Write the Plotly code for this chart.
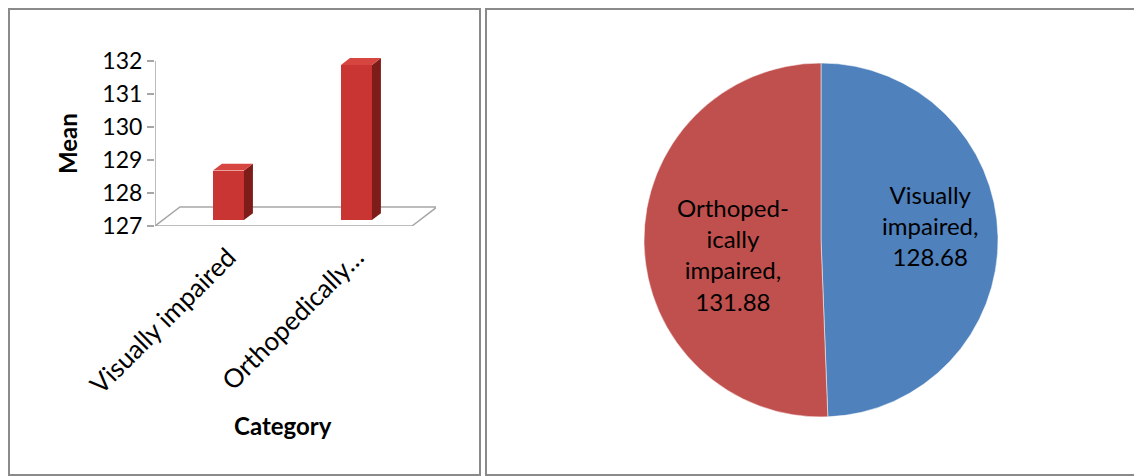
import plotly.graph_objects as go

# ---- data ----
categories = ["Visually impaired", "Orthopedically impaired"]
tick_labels = ["Visually impaired", "Orthopedically…"]
pie_labels = ["Visually<br>impaired", "Orthoped-<br>ically<br>impaired"]
means = [128.68, 131.88]
y_ticks = [127, 128, 129, 130, 131, 132]

# page has an 8px body margin: figure occupies x>=8, y>=8 of the 1142x476 window
OFF = 8
W, H = 1142 - OFF, 476 - OFF
def px(x): return (x - OFF) / W
def py(y): return 1 - (y - OFF) / H

FONT = "Lato"
fig = go.Figure()

# ---- 3D-look bar chart (left) ----
pos = [i + 0.074 for i in range(len(categories))]
bw = 0.242          # bar width (category units)
dz = 0.18           # bar base lift (depth)
ddx, ddy = 0.07, 0.21  # depth offset of bar side/top faces
floor_dx, floor_dy = 0.195, 0.576

fig.add_trace(go.Bar(
    x=pos, y=[v - 127 - dz for v in means], base=[127 + dz] * len(means),
    width=bw, marker=dict(color="#C93532", line=dict(width=0)),
    xaxis="x", yaxis="y", hoverinfo="skip", showlegend=False))

for xc, v in zip(pos, means):
    xl, xr = xc - bw / 2, xc + bw / 2
    b = 127 + dz
    # side face
    fig.add_trace(go.Scatter(
        x=[xr, xr + ddx, xr + ddx, xr, xr], y=[b, b + ddy, v + ddy, v, b],
        fill="toself", fillcolor="#7E1C1A", line=dict(width=0), mode="lines",
        xaxis="x", yaxis="y", hoverinfo="skip", showlegend=False))
    # top face
    fig.add_trace(go.Scatter(
        x=[xl, xr, xr + ddx, xl + ddx, xl], y=[v, v, v + ddy, v + ddy, v],
        fill="toself", fillcolor="#D6453F", line=dict(width=0), mode="lines",
        xaxis="x", yaxis="y", hoverinfo="skip", showlegend=False))

# ---- pie chart (right) ----
pie_text = [f"{l},<br>{v:.2f}" for l, v in zip(pie_labels, means)]
fig.add_trace(go.Pie(
    labels=categories, values=means, textinfo="none",
    sort=False, direction="clockwise", rotation=0,
    marker=dict(colors=["#4F81BD", "#C0504D"], line=dict(color="#ffffff", width=0.5)),
    domain=dict(x=[px(644), px(998)], y=[py(417), py(63)]),
    hoverinfo="skip", showlegend=False))

# label anchor points inside each slice (pixel coords of the reference layout)
pie_label_xy = [(930, 225), (733, 254)]

x0 = -0.5
x1 = 1.5 + floor_dx
shapes = [
    # panel borders
    dict(type="rect", xref="paper", yref="paper", x0=px(9), x1=px(480), y0=py(475), y1=py(9),
         line=dict(color="#8A8A8A", width=2), layer="below"),
    dict(type="rect", xref="paper", yref="paper", x0=px(486), x1=px(1150), y0=py(475), y1=py(9),
         line=dict(color="#8A8A8A", width=2), layer="below"),
    # floor
    dict(type="path", xref="x", yref="y",
         path=f"M {x0},127 L 1.508,127 L {1.508 + floor_dx},{127 + floor_dy} L {x0 + floor_dx},{127 + floor_dy} Z",
         line=dict(color="#A6A6A6", width=1.5), fillcolor="#ffffff", layer="below"),
    # value axis line
    dict(type="line", xref="x", yref="y", x0=x0, x1=x0, y0=127, y1=132,
         line=dict(color="#A6A6A6", width=1.5)),
]

annotations = [
    dict(text="<b>Mean</b>", xref="paper", yref="paper", x=px(67), y=py(144),
         xanchor="center", yanchor="middle",
         textangle=-90, showarrow=False, font=dict(family=FONT, size=24, color="#000000")),
    dict(text="<b>Category</b>", xref="paper", yref="paper", x=px(283), y=py(425),
         xanchor="center", yanchor="middle",
         showarrow=False, font=dict(family=FONT, size=24, color="#000000")),
]
for t, (lx, ly) in zip(pie_text, pie_label_xy):
    annotations.append(dict(text=t, xref="paper", yref="paper", x=px(lx), y=py(ly),
                            xanchor="center", yanchor="middle", align="center",
                            showarrow=False,
                            font=dict(family=FONT, size=24, color="#000000")))

fig.update_layout(
    width=W, height=H, margin=dict(l=0, r=0, t=0, b=0, autoexpand=False),
    paper_bgcolor="#ffffff", plot_bgcolor="rgba(0,0,0,0)",
    font=dict(family=FONT, color="#000000"),
    bargap=0,
    xaxis=dict(domain=[px(155), px(155 + (x1 - x0) * 128)], range=[x0, x1],
               tickvals=pos, ticktext=tick_labels, tickangle=-45, automargin=False,
               ticklabelstandoff=10,
               tickfont=dict(family=FONT, size=26, color="#000000"),
               showgrid=False, zeroline=False, showline=False, ticks=""),
    yaxis=dict(domain=[py(226), py(226 - 5.4 * 33)], range=[127, 132.4], automargin=False,
               tickvals=y_ticks, ticks="outside", ticklen=7, tickcolor="#A6A6A6",
               tickwidth=1.5,
               tickfont=dict(family=FONT, size=23, color="#000000"),
               showgrid=False, zeroline=False, showline=False),
    shapes=shapes,
    annotations=annotations,
)

fig.write_html("out.html")
